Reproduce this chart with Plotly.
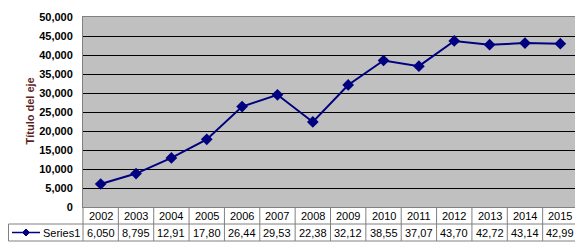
import plotly.graph_objects as go

years = ["2002", "2003", "2004", "2005", "2006", "2007", "2008", "2009",
         "2010", "2011", "2012", "2013", "2014", "2015"]
values = [6050, 8795, 12910, 17800, 26440, 29530, 22380, 32120,
          38550, 37070, 43700, 42720, 43140, 42990]
series_name = "Series1"
y_title = "Título del eje"
y_ticks = [0, 5000, 10000, 15000, 20000, 25000, 30000, 35000, 40000, 45000, 50000]

OFF = 8  # default page body margin
W, H = 583 - OFF, 244 - OFF
L, R, T, B = 83 - OFF, 5, 17 - OFF, 37
PW, PH = W - L - R, H - T - B
n = len(years)

def px_x(p):
    return (p - OFF - L) / PW

def px_y(p):
    return (H - B - (p - OFF)) / PH

line_col = "#000080"
border = "#808080"
font = "Liberation Sans, Arial, sans-serif"

fig = go.Figure()
fig.add_trace(go.Scatter(
    x=years, y=values, mode="lines+markers", name=series_name,
    line=dict(color=line_col, width=2),
    marker=dict(symbol="diamond", size=9, color=line_col),
    cliponaxis=False, showlegend=False,
))

shapes = []
annotations = []
row1_top = px_y(207)
row_mid = px_y(224)
row_bot = px_y(241)
left_cell = px_x(8.5)
shapes.append(dict(type="line", xref="paper", yref="paper", x0=left_cell, x1=1, y0=row_mid, y1=row_mid,
                   line=dict(color=border, width=1)))
shapes.append(dict(type="line", xref="paper", yref="paper", x0=left_cell, x1=1, y0=row_bot, y1=row_bot,
                   line=dict(color=border, width=1)))
shapes.append(dict(type="line", xref="paper", yref="paper", x0=left_cell, x1=left_cell, y0=row_mid, y1=row_bot,
                   line=dict(color=border, width=1)))
for k in range(n + 1):
    xp = k / n
    shapes.append(dict(type="line", xref="paper", yref="paper", x0=xp, x1=xp, y0=row1_top, y1=row_bot,
                       line=dict(color=border, width=1)))
ly = px_y(232.5)
shapes.append(dict(type="line", xref="paper", yref="paper", x0=px_x(12), x1=px_x(40), y0=ly, y1=ly,
                   line=dict(color=line_col, width=1.5)))
cx, cy, r = 26, 232.5, 3.5
path = "M {} {} L {} {} L {} {} L {} {} Z".format(
    px_x(cx), px_y(cy - r), px_x(cx + r), px_y(cy), px_x(cx), px_y(cy + r), px_x(cx - r), px_y(cy))
shapes.append(dict(type="path", xref="paper", yref="paper", path=path,
                   fillcolor=line_col, line=dict(color=line_col, width=1)))
annotations.append(dict(x=px_x(41), y=ly, xref="paper", yref="paper", text=series_name,
                        showarrow=False, xanchor="left", yanchor="middle",
                        font=dict(family=font, size=11, color="black")))

for k, (yr, v) in enumerate(zip(years, values)):
    xc = (k + 0.5) / n
    annotations.append(dict(x=xc, y=px_y(215.5), xref="paper", yref="paper", text=yr,
                            showarrow=False, xanchor="center", yanchor="middle",
                            font=dict(family=font, size=11, color="black")))
    label = f"{v:,}"[:5]
    annotations.append(dict(x=xc, y=ly, xref="paper", yref="paper", text=label,
                            showarrow=False, xanchor="center", yanchor="middle",
                            font=dict(family=font, size=11, color="black")))

annotations.append(dict(x=px_x(29.5), y=px_y(111), xref="paper", yref="paper", text="<b>" + y_title + "</b>",
                        textangle=-90, showarrow=False, xanchor="center", yanchor="middle",
                        font=dict(family=font, size=11, color="#5e1f1f")))

fig.update_layout(
    width=W, height=H,
    margin=dict(l=L, r=R, t=T, b=B, pad=0),
    paper_bgcolor="white", plot_bgcolor="#c0c0c0",
    shapes=shapes, annotations=annotations,
    xaxis=dict(type="category", range=[-0.5, n - 0.5], showticklabels=False,
               showgrid=False, zeroline=False, showline=True, linecolor=border,
               mirror=True, ticks="", fixedrange=True, automargin=False),
    yaxis=dict(range=[0, 50000], tickvals=y_ticks,
               ticktext=[f"<b>{t:,}</b>" for t in y_ticks],
               showgrid=True, gridcolor="black", gridwidth=1, zeroline=False,
               showline=True, linecolor=border, mirror=True, automargin=False,
               ticks="outside", ticklen=7, tickcolor="rgba(0,0,0,0)",
               tickfont=dict(family=font, size=11, color="black")),
)

fig.write_html("out.html")
